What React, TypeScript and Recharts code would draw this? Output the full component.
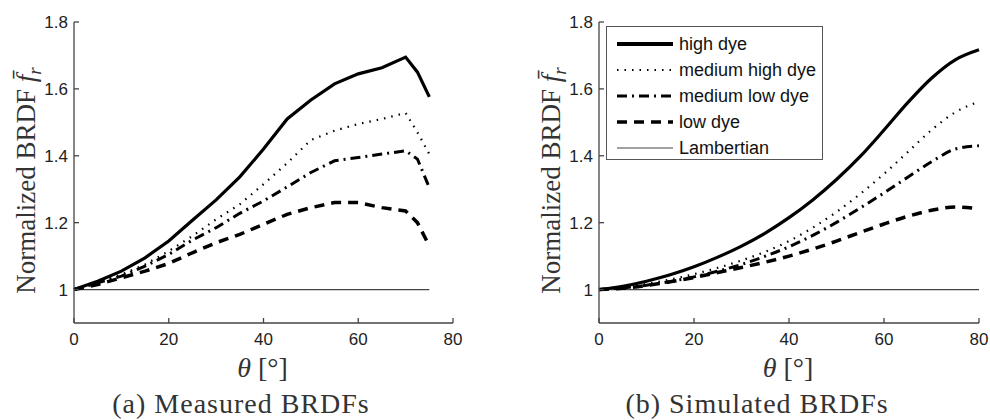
import { LineChart, Line, XAxis, YAxis, Legend } from "recharts";

// measured BRDFs (panel a)
const thetaMeasured = [0, 5, 10, 15, 20, 25, 30, 35, 40, 45, 50, 55, 60, 65, 70, 72.5, 75];
const measHigh = [1.0, 1.025, 1.055, 1.095, 1.145, 1.207, 1.268, 1.337, 1.42, 1.51, 1.567, 1.615, 1.645, 1.663, 1.695, 1.65, 1.576];
const measMedHigh = [1.0, 1.02, 1.045, 1.075, 1.115, 1.16, 1.21, 1.255, 1.315, 1.378, 1.447, 1.475, 1.495, 1.51, 1.528, 1.47, 1.405];
const measMedLow = [1.0, 1.02, 1.04, 1.07, 1.105, 1.148, 1.185, 1.228, 1.265, 1.307, 1.35, 1.385, 1.395, 1.405, 1.415, 1.39, 1.305];
const measLow = [1.0, 1.015, 1.035, 1.055, 1.078, 1.11, 1.14, 1.165, 1.195, 1.225, 1.245, 1.26, 1.26, 1.245, 1.235, 1.2, 1.13];
const measLamb = [1, 1, 1, 1, 1, 1, 1, 1, 1, 1, 1, 1, 1, 1, 1, 1, 1];

// simulated BRDFs (panel b)
const thetaSim = [0, 5, 10, 15, 20, 25, 30, 35, 40, 45, 50, 55, 60, 65, 70, 75, 80];
const simHigh = [1.0, 1.01, 1.025, 1.044, 1.068, 1.097, 1.13, 1.169, 1.215, 1.268, 1.329, 1.398, 1.477, 1.559, 1.632, 1.687, 1.717];
const simMedHigh = [1.0, 1.007, 1.017, 1.03, 1.046, 1.065, 1.087, 1.113, 1.145, 1.185, 1.232, 1.286, 1.346, 1.411, 1.477, 1.53, 1.562];
const simMedLow = [1.0, 1.005, 1.013, 1.024, 1.038, 1.055, 1.075, 1.1, 1.128, 1.162, 1.201, 1.244, 1.289, 1.336, 1.382, 1.42, 1.43];
const simLow = [1.0, 1.004, 1.012, 1.023, 1.036, 1.051, 1.066, 1.082, 1.1, 1.121, 1.145, 1.171, 1.196, 1.219, 1.237, 1.247, 1.241];
const simLamb = [1, 1, 1, 1, 1, 1, 1, 1, 1, 1, 1, 1, 1, 1, 1, 1, 1];

const seriesNames = ["high dye", "medium high dye", "medium low dye", "low dye", "Lambertian"];
const xTicks = [0, 20, 40, 60, 80];
const yTicks = [1, 1.2, 1.4, 1.6, 1.8];

const lineStyles = [
  { key: "high", width: 3.2, dash: undefined, color: "#000" },
  { key: "medHigh", width: 2.2, dash: "1.5 6", color: "#000" },
  { key: "medLow", width: 3, dash: "10 5 2 5", color: "#000" },
  { key: "low", width: 3.5, dash: "10 7", color: "#000" },
  { key: "lamb", width: 1.2, dash: undefined, color: "#444" },
];

function buildRows(theta: number[], cols: number[][]) {
  return theta.map((t, i) => {
    const row: any = { theta: t };
    lineStyles.forEach((s, j) => (row[s.key] = cols[j][i]));
    return row;
  });
}

const measuredRows = buildRows(thetaMeasured, [measHigh, measMedHigh, measMedLow, measLow, measLamb]);
const simulatedRows = buildRows(thetaSim, [simHigh, simMedHigh, simMedLow, simLow, simLamb]);

const sans = "'Liberation Sans', Arial, sans-serif";
const serif = "'Liberation Serif', 'Times New Roman', serif";
const axisColor = "#444";

const YLabel = (props: any) => {
  const vb = props.viewBox;
  const cx = vb.x + vb.width - 39;
  const cy = vb.y + vb.height / 2 + 8;
  return (
    <text x={cx} y={cy} transform={`rotate(-90 ${cx} ${cy})`} textAnchor="middle" fontFamily={serif} fontSize={27} fill="#333">
      Normalized BRDF <tspan fontStyle="italic">f&#772;</tspan>
      <tspan fontStyle="italic" fontSize={19} dy={6}>r</tspan>
    </text>
  );
};

const makeXLabel = (caption: string, captionX: number) => (props: any) => {
  const vb = props.viewBox;
  const cx = vb.x + vb.width / 2 - 1;
  return (
    <g fontFamily={serif} fill="#333">
      <text x={cx} y={vb.y + 54} textAnchor="middle" fontSize={28}>
        <tspan fontStyle="italic">θ</tspan> [°]
      </text>
      <text x={captionX} y={vb.y + 90} textAnchor="middle" fontSize={28} letterSpacing={1}>
        {caption}
      </text>
    </g>
  );
};

const LegendBox = () => (
  <div
    style={{
      border: "1.3px solid #555",
      background: "#fff",
      width: 217,
      height: 134,
      boxSizing: "border-box",
      padding: "4px 0 0 10px",
      fontFamily: sans,
      fontSize: 18,
      color: "#111",
    }}
  >
    {seriesNames.map((name, i) => {
      const s = lineStyles[i];
      return (
        <div key={name} style={{ display: "flex", alignItems: "center", height: 26 }}>
          <svg width={56} height={10} style={{ marginRight: 6 }}>
            <line x1={0} y1={5} x2={56} y2={5} stroke={s.color} strokeWidth={s.key === "high" ? 4 : s.width} strokeDasharray={s.dash} />
          </svg>
          <span>{name}</span>
        </div>
      );
    })}
  </div>
);

function Panel(props: { rows: any[]; yWidth: number; right: number; caption: string; captionX: number; smooth: boolean; legend: boolean }) {
  const { rows, yWidth, right, caption, captionX, smooth, legend } = props;
  return (
    <LineChart width={495} height={420} data={rows} margin={{ top: 22, right, left: 0, bottom: 67 }}>
      <XAxis
        dataKey="theta"
        type="number"
        domain={[0, 80]}
        ticks={xTicks}
        interval={0}
        height={30}
        tickSize={-5}
        tickMargin={15}
        stroke={axisColor}
        strokeWidth={1.3}
        tick={{ fill: "#222", fontSize: 17, fontFamily: sans }}
        label={{ content: makeXLabel(caption, captionX) }}
      />
      <YAxis
        type="number"
        domain={[0.9, 1.8]}
        ticks={yTicks}
        interval={0}
        width={yWidth}
        allowDataOverflow
        tickSize={-5}
        tickMargin={11}
        stroke={axisColor}
        strokeWidth={1.3}
        tick={{ fill: "#222", fontSize: 17, fontFamily: sans }}
        tickFormatter={(v: number) => (v === 1 ? "1" : v.toFixed(1))}
        label={{ content: YLabel }}
      />
      {lineStyles
        .slice()
        .reverse()
        .map((s) => (
          <Line
            key={s.key}
            dataKey={s.key}
            type={smooth ? "monotone" : "linear"}
            stroke={s.color}
            strokeWidth={s.width}
            strokeDasharray={s.dash}
            dot={false}
            activeDot={false}
            isAnimationActive={false}
          />
        ))}
      {legend && (
        <Legend
          layout="vertical"
          align="center"
          verticalAlign="middle"
          content={() => <LegendBox />}
          wrapperStyle={{ left: 111, top: 26, width: 219, height: 136 }}
        />
      )}
    </LineChart>
  );
}

export default function App() {
  return (
    <div style={{ position: "absolute", left: 0, top: 0, width: 990, height: 420, background: "#fff", display: "flex" }}>
      <Panel rows={measuredRows} yWidth={74} right={42} caption="(a) Measured BRDFs" captionX={241} smooth={false} legend={false} />
      <Panel rows={simulatedRows} yWidth={104} right={11} caption="(b) Simulated BRDFs" captionX={262} smooth={true} legend={true} />
    </div>
  );
}
